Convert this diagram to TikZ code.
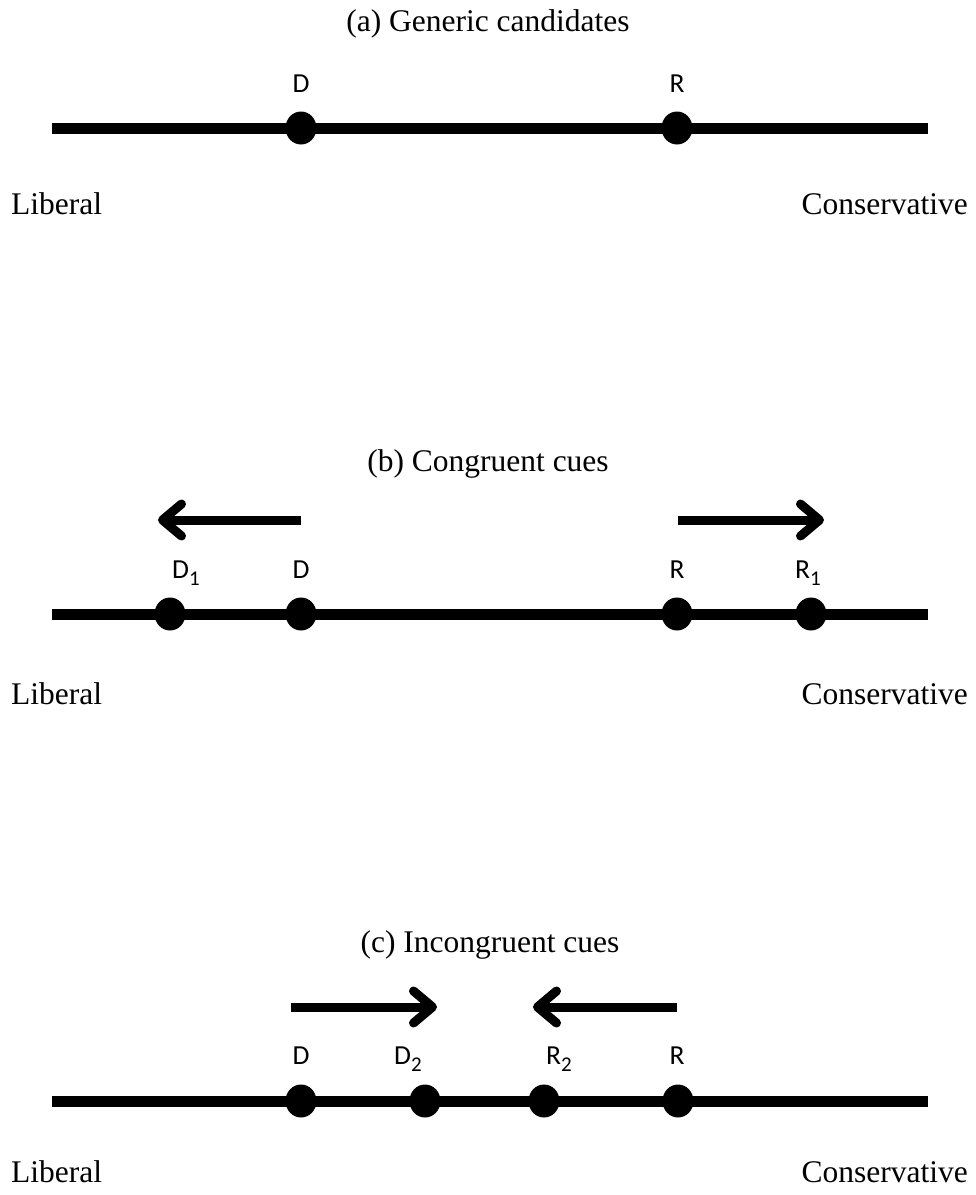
\documentclass[tikz,border=0pt]{standalone}
\usepackage{fontspec}
\setmainfont{Liberation Serif}
\newfontfamily\lblfont{Carlito}
\usetikzlibrary{arrows.meta,shapes.geometric}
\newcommand{\subn}[1]{\raisebox{-7pt}{\fontsize{21}{21}\selectfont #1}}
\begin{document}
\begin{tikzpicture}[x=1pt,y=-1pt,
  axisline/.style={line width=11pt},
  dot/.style={ellipse,fill=black,inner sep=0pt,minimum width=31pt,minimum height=33pt},
  cand/.style={font=\lblfont\fontsize{27.5}{32}\selectfont,anchor=base,inner sep=0pt},
  ttl/.style={font=\fontsize{31.5}{36}\selectfont,anchor=base,inner sep=0pt},
  endlbl/.style={font=\fontsize{31.5}{36}\selectfont,anchor=base,inner sep=0pt},
  move/.style={line width=9pt,-{Straight Barb[length=19pt,width=32pt,round]}}]
\useasboundingbox (0,0) rectangle (976,1195);

% ---------- (a) ----------
\node[ttl] (ta) at (488,31) {(a) Generic candidates};
\coordinate (aL) at (52,128);
\coordinate (aR) at (928,128);
\draw[axisline] (aL) -- (aR);
\node[dot] (aD) at (301,128) {};
\node[dot] (aRr) at (677,128) {};
\node[cand] (laD) at (301,92) {D};
\node[cand] (laR) at (677,92) {R};
\node[endlbl,anchor=base west] (libA) at (11,214) {Liberal};
\node[endlbl,anchor=base east] (conA) at (968,214) {Conservative};

% ---------- (b) ----------
\node[ttl] (tb) at (488,471) {(b) Congruent cues};
\coordinate (bL) at (52,614);
\coordinate (bR) at (928,614);
\draw[axisline] (bL) -- (bR);
\node[dot] (bD1) at (170,614) {};
\node[dot] (bD) at (301,614) {};
\node[dot] (bRr) at (677,614) {};
\node[dot] (bR1) at (811,614) {};
\node[cand] (lbD1) at (186,578) {D\subn{1}};
\node[cand] (lbD) at (301,578) {D};
\node[cand] (lbR) at (677,578) {R};
\node[cand] (lbR1) at (808,578) {R\subn{1}};
\coordinate (bDa) at (301,520);
\coordinate (bDb) at (158,520);
\coordinate (bRa) at (678,520);
\coordinate (bRb) at (824,520);
\draw[move] (bDa) -- (bDb);
\draw[move] (bRa) -- (bRb);
\node[endlbl,anchor=base west] (libB) at (11,704) {Liberal};
\node[endlbl,anchor=base east] (conB) at (968,704) {Conservative};

% ---------- (c) ----------
\node[ttl] (tc) at (490,952) {(c) Incongruent cues};
\coordinate (cL) at (52,1101);
\coordinate (cR) at (928,1101);
\draw[axisline] (cL) -- (cR);
\node[dot] (cD) at (301,1101) {};
\node[dot] (cD2) at (425,1101) {};
\node[dot] (cR2) at (544,1101) {};
\node[dot] (cRr) at (678,1101) {};
\node[cand] (lcD) at (301,1064) {D};
\node[cand] (lcD2) at (408,1064) {D\subn{2}};
\node[cand] (lcR2) at (559,1064) {R\subn{2}};
\node[cand] (lcR) at (677,1064) {R};
\coordinate (cDa) at (291,1007);
\coordinate (cDb) at (437,1007);
\coordinate (cRa) at (677,1007);
\coordinate (cRb) at (533,1007);
\draw[move] (cDa) -- (cDb);
\draw[move] (cRa) -- (cRb);
\node[endlbl,anchor=base west] (libC) at (11,1182) {Liberal};
\node[endlbl,anchor=base east] (conC) at (968,1182) {Conservative};
\end{tikzpicture}
\end{document}
